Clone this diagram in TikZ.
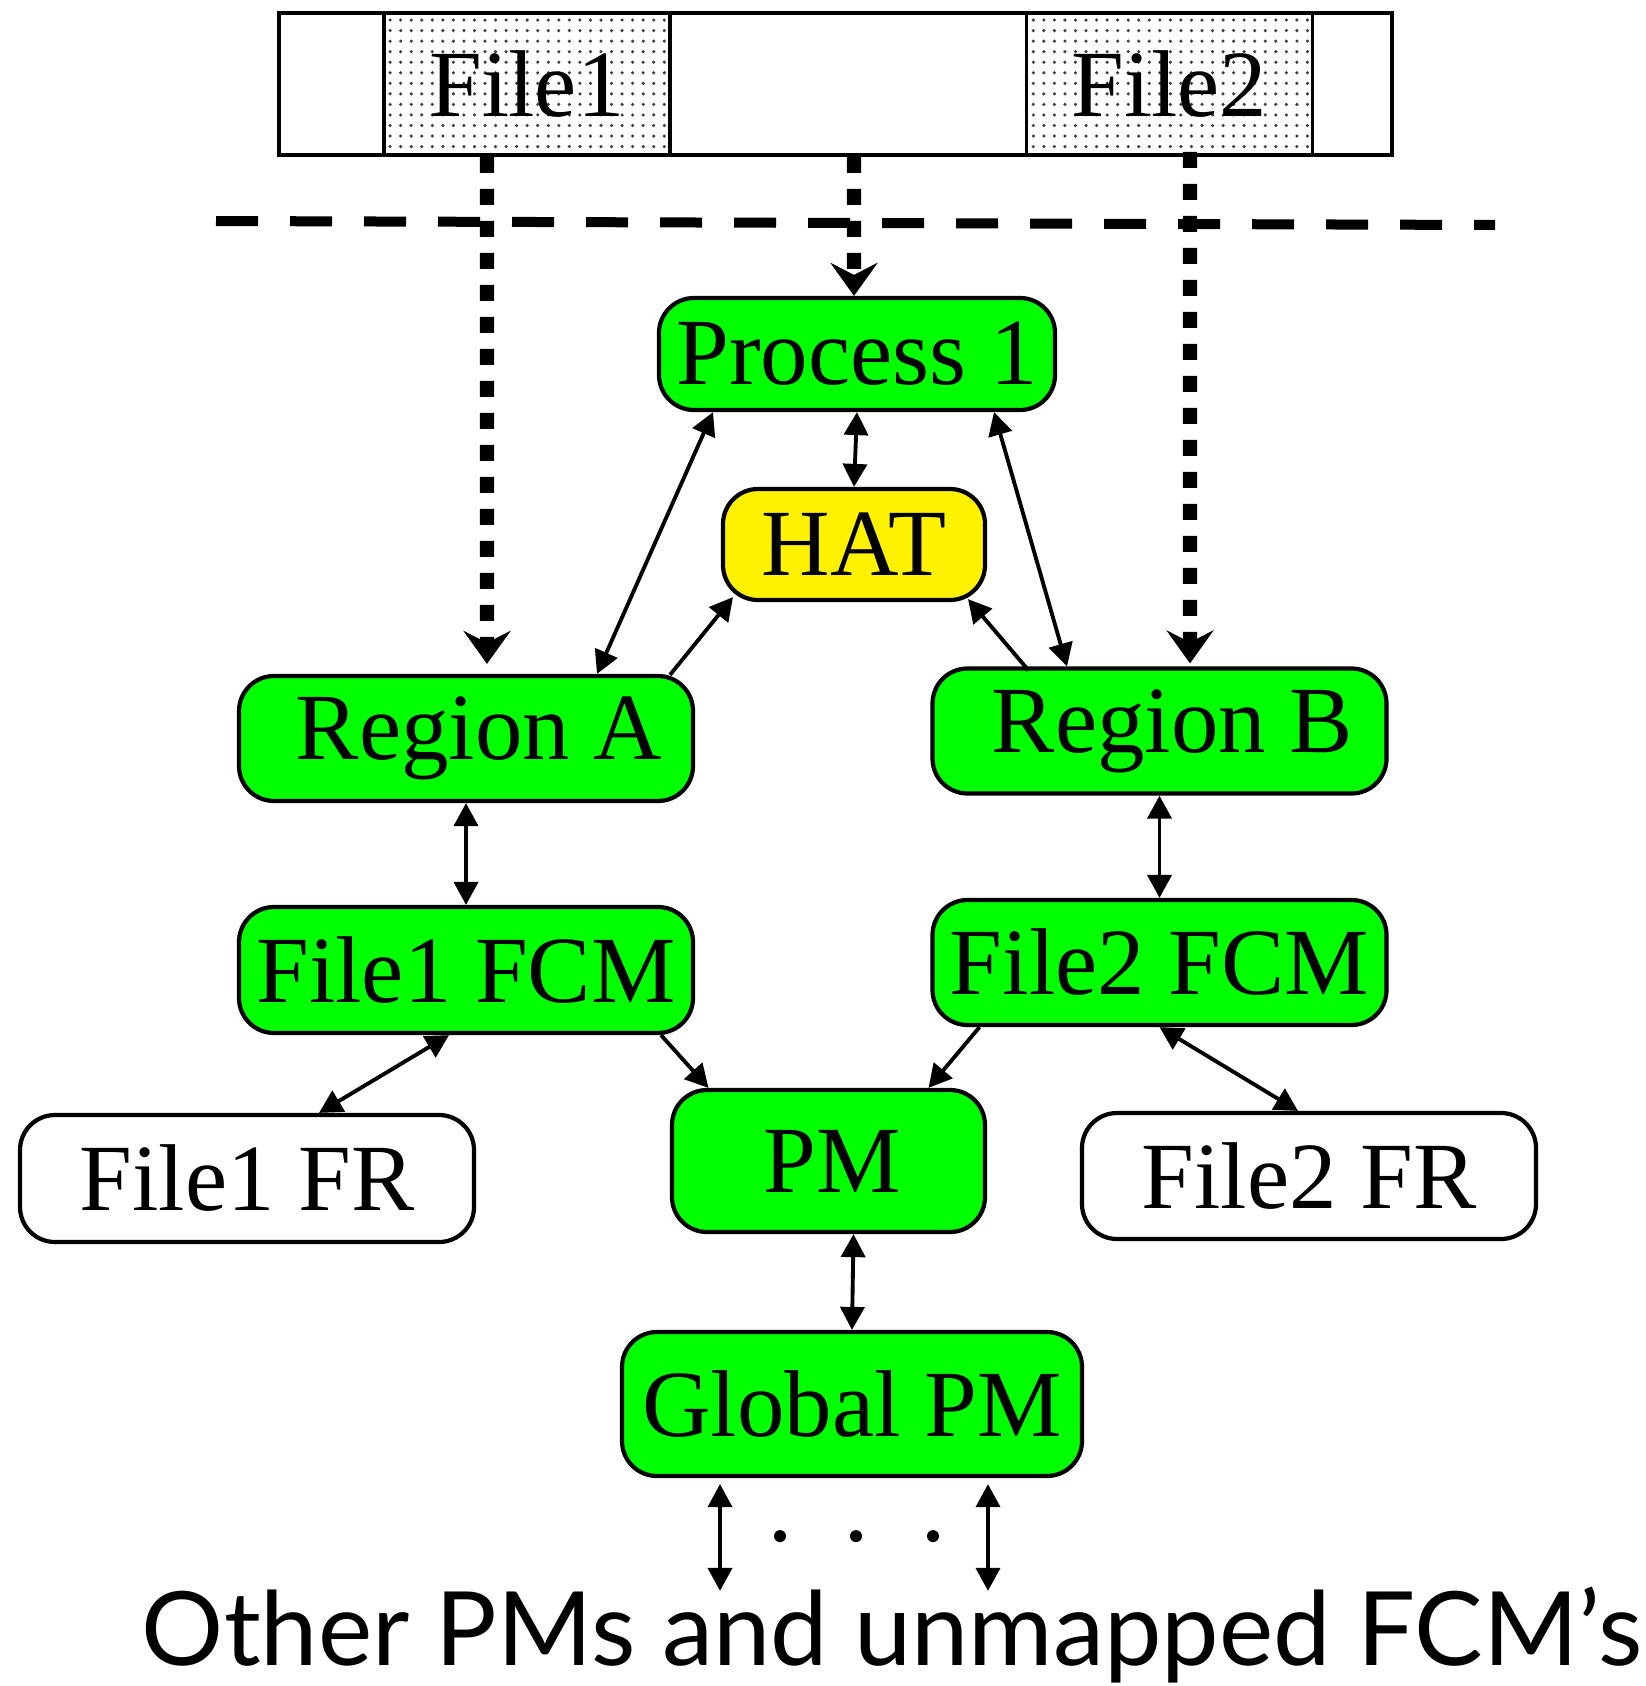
\documentclass[tikz,border=0pt]{standalone}
\usepackage{fontspec}
\setmainfont{Liberation Serif}
\newfontfamily\othersfont{Lato}
\usetikzlibrary{arrows.meta,patterns,positioning}

\begin{document}
\begin{tikzpicture}[
	box/.style={draw,line width=1.2pt,rounded corners=0.35cm,minimum width=4.54cm,minimum height=1.25cm,inner sep=0pt,font=\fontsize{27}{30}\selectfont},
	greenbox/.style={box,fill=green},
	hatbox/.style={box,fill=yellow},
	frbox/.style={box,fill=white},
	filebox/.style={draw,line width=1pt,pattern=dots,pattern color=black!75,minimum width=2.86cm,minimum height=1.42cm,inner sep=0pt,font=\fontsize{27}{30}\selectfont},
	link/.style={line width=1.1pt,{Triangle[length=0.23cm,width=0.24cm]}-{Triangle[length=0.23cm,width=0.24cm]}},
	onelink/.style={line width=1.1pt,-{Triangle[length=0.23cm,width=0.24cm]}},
	maplink/.style={line width=4pt,dash pattern=on 0.16cm off 0.16cm,-{Stealth[length=0.33cm,width=0.47cm,inset=0.12cm]}}
]
						\useasboundingbox (0,0) rectangle (16.45,-16.86);

						\node[draw,line width=1pt,minimum width=11.13cm,minimum height=1.42cm,inner sep=0pt] (bar) at (8.355,-0.84) {};
						\node[filebox] (file1) at (5.27,-0.84) {File1};
						\node[filebox] (file2) at (11.695,-0.84) {File2};

						\draw[line width=0.1cm,dash pattern=on 0.42cm off 0.32cm] (2.16,-2.21) -- (14.95,-2.25);

						\node[greenbox,minimum width=3.96cm,minimum height=1.12cm] (proc) at (8.57,-3.54) {Process 1};
						\node[hatbox,minimum width=2.62cm,minimum height=1.11cm] (hat) at (8.54,-5.445) {HAT};
						\node[greenbox] (rega) at (4.66,-7.385) {\hspace{0.26cm}Region A};
						\node[greenbox] (regb) at (11.595,-7.31) {\hspace{0.26cm}Region B};
						\node[greenbox,minimum height=1.26cm] (fcma) at (4.66,-9.70) {File1 FCM};
						\node[greenbox] (fcmb) at (11.595,-9.625) {File2 FCM};
						\node[frbox,minimum height=1.27cm] (fra) at (2.47,-11.785) {File1 FR};
						\node[greenbox,minimum width=3.13cm,minimum height=1.42cm] (pm) at (8.285,-11.61) {\hspace{0.08cm}PM};
						\node[frbox,minimum height=1.26cm] (frb) at (13.09,-11.76) {File2 FR};
						\node[greenbox,minimum width=4.6cm,minimum height=1.44cm] (gpm) at (8.52,-14.04) {Global PM};

						\node[anchor=base,inner sep=0pt,font=\othersfont\fontsize{29.2}{33}\selectfont] (others) at (8.92,-16.65) {Other PMs and unmapped FCM’s};

						\draw[maplink] ([xshift=-0.40cm]file1.south) -- ([xshift=0.21cm,yshift=0.1cm]rega.north);
						\draw[maplink] ([xshift=0.185cm]bar.south) -- ([xshift=-0.03cm]proc.north);
						\draw[maplink] ([xshift=0.205cm,yshift=0.05cm]file2.south) -- ([xshift=0.305cm,yshift=0.03cm]regb.north);

						\draw[link] (proc.south) -- (hat.north);
						\draw[link] ([xshift=-1.44cm]proc.south) -- ([xshift=1.31cm]rega.north);
						\draw[link] ([xshift=1.37cm]proc.south) -- ([xshift=-0.925cm]regb.north);
						\draw[onelink] ([xshift=2.04cm,yshift=-0.01cm]rega.north) -- ([xshift=-1.21cm,yshift=0.05cm]hat.south);
						\draw[onelink] ([xshift=-1.31cm,yshift=-0.04cm]regb.north) -- ([xshift=1.14cm,yshift=0.03cm]hat.south);

						\draw[link] (rega.south) -- (fcma.north);
						\draw[link] (regb.south) -- (fcmb.north);
						\draw[link] ([xshift=-0.17cm]fcma.south) -- ([xshift=0.72cm]fra.north);
						\draw[link] (fcmb.south) -- ([xshift=-0.11cm]frb.north);
						\draw[onelink] ([xshift=1.95cm]fcma.south) -- ([xshift=-1.2cm]pm.north);
						\draw[onelink] ([xshift=-1.8cm]fcmb.south) -- ([xshift=1.0cm]pm.north);
						\draw[link] ([xshift=0.25cm]pm.south) -- (gpm.north);

						\coordinate (outa) at ([xshift=-1.32cm,yshift=-0.06cm]gpm.south);
						\coordinate (outb) at ([xshift=1.36cm,yshift=-0.06cm]gpm.south);
						\draw[link] (outa) -- ([yshift=-0.05cm]outa |- others.north);
						\draw[link] (outb) -- ([yshift=-0.05cm]outb |- others.north);
						\foreach \x in {-0.72,0.04,0.81}
							\fill ([xshift=\x cm,yshift=-0.58cm]gpm.south) circle (0.06cm);
					\end{tikzpicture}
\end{document}
